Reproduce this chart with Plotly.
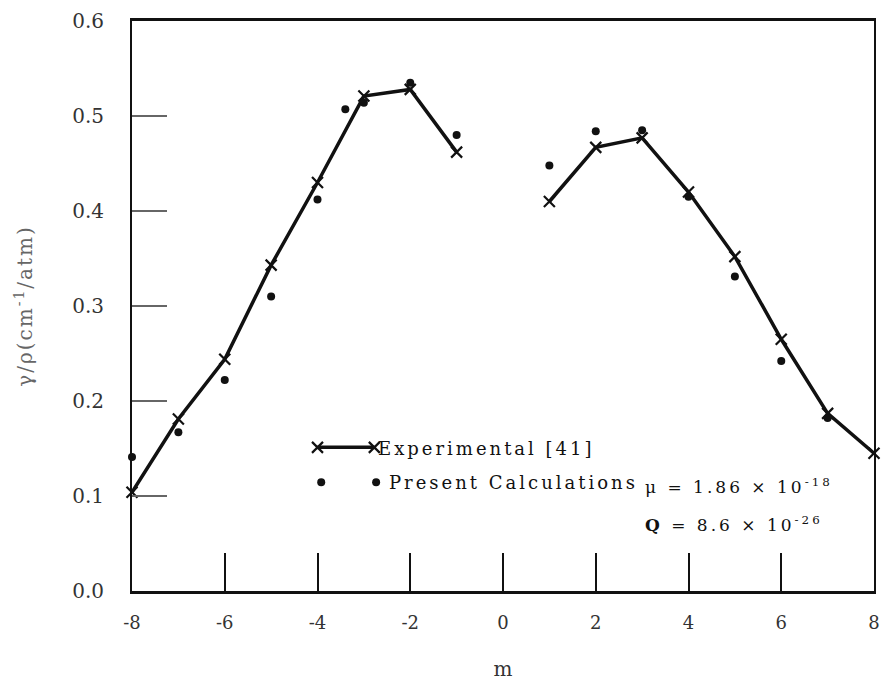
import plotly.graph_objects as go

# Rotational quantum number m for the measured line widths (two branches)
exp_left_m = [-8, -7, -6, -5, -4, -3, -2, -1]
exp_left = [0.104, 0.181, 0.244, 0.343, 0.430, 0.521, 0.528, 0.462]
exp_right_m = [1, 2, 3, 4, 5, 6, 7, 8]
exp_right = [0.410, 0.467, 0.477, 0.420, 0.352, 0.265, 0.187, 0.145]

# Calculated widths
calc_m = [-8, -7, -6, -5, -4, -3.4, -3, -2, -1, 1, 2, 3, 4, 5, 6, 7]
calc = [0.141, 0.167, 0.222, 0.310, 0.412, 0.507, 0.514, 0.535, 0.480,
        0.448, 0.484, 0.485, 0.415, 0.331, 0.242, 0.182]

x_ticks = [-8, -6, -4, -2, 0, 2, 4, 6, 8]
y_ticks = [0.0, 0.1, 0.2, 0.3, 0.4, 0.5, 0.6]
y_tick_text = ["0.0", "0.1", "0.2", "0.3", "0.4", "0.5", "0.6"]

SERIF = "DejaVu Serif"
INK = "#111111"

fig = go.Figure()

exp_line = dict(color=INK, width=3.5)
exp_marker = dict(symbol="x-thin", size=11, line=dict(color=INK, width=2.2))
for xs, ys in ((exp_left_m, exp_left), (exp_right_m, exp_right)):
    fig.add_trace(go.Scatter(
        x=xs, y=ys, mode="lines+markers", name="Experimental [41]",
        line=exp_line, marker=exp_marker, cliponaxis=False, showlegend=False,
    ))

fig.add_trace(go.Scatter(
    x=calc_m, y=calc, mode="markers", name="Present Calculations",
    marker=dict(symbol="circle", size=8, color=INK),
    cliponaxis=False, showlegend=False,
))

# Key glyphs drawn on an overlay axis spanning the plot area
key_x_line = [0.250, 0.3266]
key_y_line = [0.252, 0.252]
key_x_dots = [0.255, 0.329]
key_y_dots = [0.191, 0.191]
fig.add_trace(go.Scatter(
    x=key_x_line, y=key_y_line, xaxis="x2", yaxis="y2",
    mode="lines+markers", line=exp_line, marker=exp_marker,
    showlegend=False, hoverinfo="skip", cliponaxis=False,
))
fig.add_trace(go.Scatter(
    x=key_x_dots, y=key_y_dots, xaxis="x2", yaxis="y2",
    mode="markers", marker=dict(symbol="circle", size=8, color=INK),
    showlegend=False, hoverinfo="skip", cliponaxis=False,
))

ann_font = dict(family=SERIF, size=18, color=INK)
fig.add_annotation(text="Experimental [41]", xref="paper", yref="paper",
                   x=0.329, y=0.250, xanchor="left", yanchor="middle",
                   showarrow=False, font=ann_font)
fig.add_annotation(text="Present Calculations", xref="paper", yref="paper",
                   x=0.343, y=0.190, xanchor="left", yanchor="middle",
                   showarrow=False, font=ann_font)
fig.add_annotation(text="μ = 1.86 × 10<sup>-18</sup>", xref="paper", yref="paper",
                   x=0.689, y=0.184, xanchor="left", yanchor="middle",
                   showarrow=False, font=dict(family=SERIF, size=17, color=INK))
fig.add_annotation(text="<b>Q</b> = 8.6 × 10<sup>-26</sup>", xref="paper", yref="paper",
                   x=0.689, y=0.117, xanchor="left", yanchor="middle",
                   showarrow=False, font=dict(family=SERIF, size=17, color=INK))

fig.update_layout(
    width=884, height=681,
    margin=dict(l=132, r=4, t=21, b=77),
    paper_bgcolor="white", plot_bgcolor="white",
    font=dict(family=SERIF, color="#333333"),
    xaxis=dict(
        range=[-8, 8], tickvals=x_ticks, ticktext=[str(v) for v in x_ticks],
        ticks="inside", ticklen=38, tickwidth=1.5, tickcolor=INK,
        showline=True, linecolor=INK, linewidth=2.5, mirror=True,
        showgrid=False, zeroline=False, ticklabeloverflow="allow",
        tickfont=dict(family=SERIF, size=18, color="#333333"),
        ticklabelstandoff=14,
        title=dict(text="m", font=dict(family=SERIF, size=20, color="#333333"), standoff=30),
    ),
    yaxis=dict(
        range=[0, 0.6], tickvals=y_ticks, ticktext=y_tick_text,
        ticks="inside", ticklen=35, tickwidth=1.5, tickcolor="#666666",
        showline=True, linecolor=INK, linewidth=2, mirror=True,
        showgrid=False, zeroline=False,
        tickfont=dict(family=SERIF, size=20, color="#333333"),
        ticklabelstandoff=22,
        title=dict(text="γ/ρ(cm<sup>-1</sup>/atm)",
                   font=dict(family=SERIF, size=20, color="#666666"), standoff=34),
    ),
    xaxis2=dict(range=[0, 1], overlaying="x", visible=False, fixedrange=True),
    yaxis2=dict(range=[0, 1], overlaying="y", visible=False, fixedrange=True),
)

# Widen the letter spacing of the key labels, constants and y title,
# keeping each label's left edge (or centre for the title) in place.
spacing_js = """
function spread(sel, px, keepLeft) {
    document.querySelectorAll(sel).forEach(function (t) {
        var b0 = t.getBBox();
        t.style.letterSpacing = px;
        if (keepLeft) {
            var b1 = t.getBBox();
            var x = parseFloat(t.getAttribute('x') || '0');
            t.setAttribute('x', x + (b0.x - b1.x));
        }
    });
}
spread('.annotation-text', '3px', true);
spread('.ytitle', '2px', false);
"""

fig.write_html("out.html", post_script=spacing_js)
